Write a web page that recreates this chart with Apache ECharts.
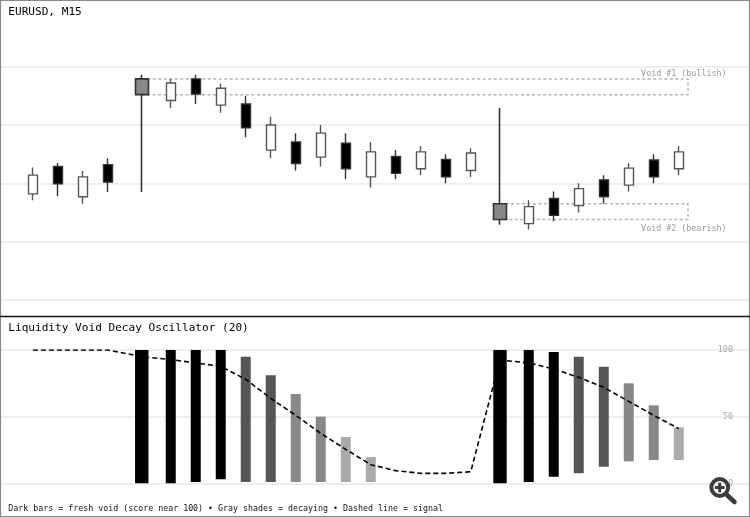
<!DOCTYPE html>
<html><head><meta charset="utf-8">
<style>html,body{margin:0;padding:0;background:#fff}#c{width:750px;height:517px}</style>
<script src="https://cdn.jsdelivr.net/npm/echarts@6/dist/echarts.min.js"></script>
</head><body><div id="c"></div>
<script>
const chartTitle = 'EURUSD, M15';
const oscTitle = 'Liquidity Void Decay Oscillator (20)';
const caption = 'Dark bars = fresh void (score near 100) \u2022 Gray shades = decaying \u2022 Dashed line = signal';
const voidNames = ['Void #1 (bullish)', 'Void #2 (bearish)'];
const barSlot = [0,1,2,3,4.35,5.51,6.51,7.51,8.51,9.51,10.51,11.51,12.51,13.51,14.51,15.51,16.51,17.51,18.68,19.83,20.83,21.83,22.83,23.83,24.83,25.83];
const open  = [1.08182,1.08229,1.08177,1.08232,1.08352,1.08342,1.08379,1.08334,1.08336,1.08257,1.08271,1.08245,1.08269,1.08211,1.08246,1.08225,1.08241,1.08222,1.08165,1.08131,1.08174,1.08162,1.08206,1.08197,1.08240,1.08225];
const close = [1.08214,1.08199,1.08211,1.08202,1.08379,1.08372,1.08353,1.08363,1.08295,1.08300,1.08234,1.08286,1.08225,1.08254,1.08217,1.08254,1.08211,1.08252,1.08138,1.08160,1.08145,1.08191,1.08177,1.08226,1.08211,1.08254];
const low   = [1.08171,1.08178,1.08165,1.08185,1.08185,1.08329,1.08336,1.08321,1.08279,1.08243,1.08222,1.08229,1.08207,1.08193,1.08207,1.08214,1.08200,1.08211,1.08129,1.08121,1.08135,1.08150,1.08165,1.08186,1.08200,1.08214];
const high  = [1.08227,1.08235,1.08221,1.08243,1.08386,1.08379,1.08386,1.08371,1.08350,1.08314,1.08286,1.08300,1.08286,1.08271,1.08257,1.08264,1.08250,1.08260,1.08329,1.08171,1.08186,1.08200,1.08214,1.08235,1.08250,1.08264];
const voidIndex = [4, 18];
const voidEndSlot = 26.2;
const scoreTop = [null,null,null,null,100,100,100,100,95,81,67,50,34.7,19.7,null,null,null,null,100,100,98.5,95,87.5,75,58.5,42];
const scoreBase = [null,null,null,null,0,0,1,3,1,1,1,1,1,1,null,null,null,null,0,1,5,7.5,12.5,16.5,17.5,17.5];
const signal = [100,100,100,100,95,92.8,90.3,87.7,78,63.7,51,37.5,25.5,14,9.5,7.5,7.5,8.7,92.5,90.3,85.8,79.5,72,61.5,51,41];

const MONO = '"DejaVu Sans Mono", monospace';
const isVoid = i => voidIndex.includes(i);
const shade = v => v >= 96 ? '#000' : v >= 80 ? '#555' : v >= 50 ? '#888' : '#aaa';
const candleRows = idx => idx.map(i => [barSlot[i], open[i], close[i], low[i], high[i]]);
const allIdx = barSlot.map((_, i) => i);
const chart = echarts.init(document.getElementById('c'), null, {renderer: 'canvas'});
const xBase = {type: 'value', min: -1.32, max: 28.68, show: false};
const gridLine = {show: true, lineStyle: {color: '#eeeeee', width: 2}};
chart.setOption({
  animation: false,
  backgroundColor: '#fff',
  grid: [
    {left: 0, right: 0, top: 66.67, height: 233.33},
    {left: 0, right: 0, top: 350, height: 133.33}
  ],
  xAxis: [Object.assign({gridIndex: 0}, xBase), Object.assign({gridIndex: 1}, xBase)],
  yAxis: [
    {gridIndex: 0, type: 'value', min: 1.08, max: 1.084, interval: 0.001,
     axisLine: {show: false}, axisTick: {show: false}, axisLabel: {show: false}, splitLine: gridLine},
    {gridIndex: 1, type: 'value', min: 0, max: 100, interval: 50, position: 'right',
     axisLine: {show: false}, axisTick: {show: false}, splitLine: gridLine,
     axisLabel: {inside: true, margin: 17, color: '#aaa', fontFamily: MONO, fontSize: 8.5, padding: [4, 0, 0, 0]}}
  ],
  series: [
    {type: 'custom', xAxisIndex: 0, yAxisIndex: 0, z: 2, silent: true, clip: false,
     data: voidIndex.map((idx, n) => [barSlot[idx], Math.max(open[idx], close[idx]), Math.min(open[idx], close[idx]), n]),
     renderItem(params, api) {
       const a = api.coord([api.value(0), api.value(1)]);
       const b = api.coord([voidEndSlot, api.value(2)]);
       const n = api.value(3);
       const above = n === 0;
       return {type: 'group', children: [
         {type: 'rect', shape: {x: a[0], y: a[1], width: b[0] - a[0], height: b[1] - a[1]},
          style: {fill: 'none', stroke: '#b4b4b4', lineWidth: 1.5, lineDash: [3, 2.5]}},
         {type: 'text', style: {text: voidNames[n], x: 726.5, y: above ? a[1] - 5 : b[1] + 9.5,
          align: 'right', verticalAlign: 'middle', fill: '#999999', font: '8.35px ' + MONO}}
       ]};
     }},
    {type: 'candlestick', xAxisIndex: 0, yAxisIndex: 0, z: 4, barWidth: 10, encode: {x: 0, y: [1, 2, 3, 4]},
     itemStyle: {color: '#fff', color0: '#000', borderColor: '#555', borderColor0: '#333', borderWidth: 1.4},
     data: candleRows(allIdx.filter(i => !isVoid(i)))},
    {type: 'candlestick', xAxisIndex: 0, yAxisIndex: 0, z: 5, barWidth: 14, encode: {x: 0, y: [1, 2, 3, 4]},
     itemStyle: {color: '#888', color0: '#888', borderColor: '#333', borderColor0: '#333', borderWidth: 1.6},
     data: candleRows(voidIndex)},
    {type: 'custom', xAxisIndex: 1, yAxisIndex: 1, z: 3, silent: true,
     data: allIdx.filter(i => scoreTop[i] !== null).map(i => [barSlot[i], scoreBase[i], scoreTop[i], isVoid(i) ? 1 : 0]),
     renderItem(params, api) {
       const top = api.coord([api.value(0), api.value(2)]);
       const base = api.coord([api.value(0), api.value(1)]);
       const w = api.value(3) ? 13.4 : 10;
       return {type: 'rect', shape: {x: top[0] - w / 2, y: top[1], width: w, height: base[1] - top[1]},
               style: {fill: shade(api.value(2))}};
     }},
    {type: 'line', xAxisIndex: 1, yAxisIndex: 1, z: 6, symbol: 'none', silent: true,
     data: signal.map((v, i) => [barSlot[i], v]),
     lineStyle: {color: '#000', width: 1.6, type: [5, 3]}}
  ],
  graphic: [
    {type: 'rect', silent: true, z: 20, shape: {x: 0.5, y: 0.5, width: 749, height: 516}, style: {fill: 'none', stroke: '#888', lineWidth: 1.2}},
    {type: 'line', silent: true, z: 20, shape: {x1: 0, y1: 316.5, x2: 750, y2: 316.5}, style: {stroke: '#111', lineWidth: 1.3}},
    {type: 'text', silent: true, z: 21, x: 8.3, y: 12, style: {text: chartTitle, fill: '#000', font: '11.1px ' + MONO, verticalAlign: 'middle'}},
    {type: 'text', silent: true, z: 21, x: 8.3, y: 328.5, style: {text: oscTitle, fill: '#000', font: '11.1px ' + MONO, verticalAlign: 'middle'}},
    {type: 'text', silent: true, z: 21, x: 8.3, y: 509, style: {text: caption, fill: '#111', font: '8.3px ' + MONO, verticalAlign: 'middle'}},
    {type: 'group', silent: true, z: 30, children: [
      {type: 'circle', z: 30, shape: {cx: 719.7, cy: 487.5, r: 8.4}, style: {fill: '#fff', stroke: '#3c3c3c', lineWidth: 4}},
      {type: 'line', z: 30, shape: {x1: 727, y1: 495, x2: 734.5, y2: 502}, style: {stroke: '#3c3c3c', lineWidth: 4.6, lineCap: 'round'}},
      {type: 'line', z: 30, shape: {x1: 714.8, y1: 487.5, x2: 724.6, y2: 487.5}, style: {stroke: '#3c3c3c', lineWidth: 3}},
      {type: 'line', z: 30, shape: {x1: 719.7, y1: 482.6, x2: 719.7, y2: 492.4}, style: {stroke: '#3c3c3c', lineWidth: 3}}
    ]}
  ]
});
</script></body></html>
